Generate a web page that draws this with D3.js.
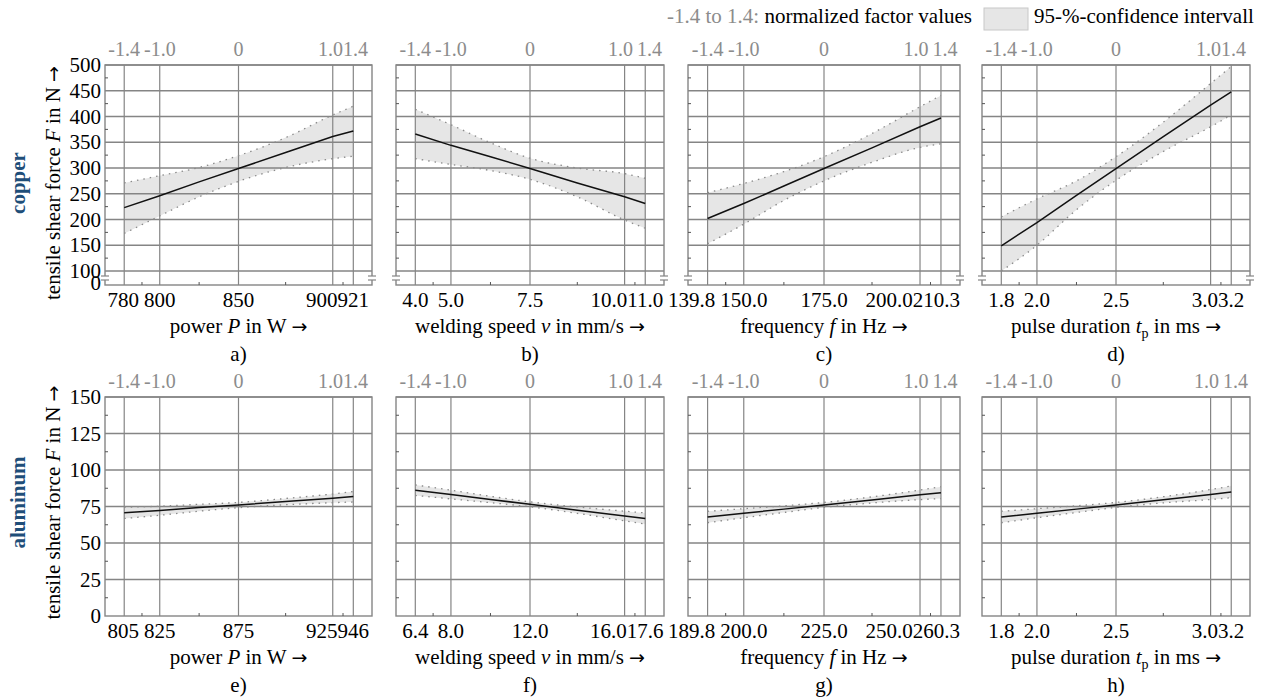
<!DOCTYPE html>
<html><head><meta charset="utf-8">
<script src="https://cdn.jsdelivr.net/npm/d3@7"></script>
<style>
html,body{margin:0;padding:0;background:#fff;}
svg, svg text{font-family:"Liberation Serif","DejaVu Serif","Times New Roman",serif;}
</style></head>
<body><svg id="chart" width="1261" height="699" font-family="Liberation Serif, DejaVu Serif, serif"></svg>
<script>
// ---------------- data ----------------
const normFactors = [-1.4, -1.0, -0.5, 0, 0.5, 1.0, 1.4];
const topTickValues = [-1.4, -1.0, 0, 1.0, 1.4];
const topTickLabels = ["-1.4", "-1.0", "0", "1.0", "1.4"];

const materials = ["copper", "aluminum"];
const panelLetters = [["a)", "b)", "c)", "d)"], ["e)", "f)", "g)", "h)"]];

const copperTicks = [
  ["780", "800", "850", "900", "921"],
  ["4.0", "5.0", "7.5", "10.0", "11.0"],
  ["139.8", "150.0", "175.0", "200.0", "210.3"],
  ["1.8", "2.0", "2.5", "3.0", "3.2"]
];
const aluminumTicks = [
  ["805", "825", "875", "925", "946"],
  ["6.4", "8.0", "12.0", "16.0", "17.6"],
  ["189.8", "200.0", "225.0", "250.0", "260.3"],
  ["1.8", "2.0", "2.5", "3.0", "3.2"]
];

// copper: fit / upper / lower at normFactors
const cuPowerFit   = [223, 246, 273, 299, 330, 361, 372];
const cuPowerUpper = [271, 285, 301, 324, 359, 403, 420];
const cuPowerLower = [173, 207, 244, 274, 301, 318, 323];
const cuSpeedFit   = [366, 344, 322, 299, 271, 244, 231];
const cuSpeedUpper = [414, 384, 349, 319, 300, 289, 280];
const cuSpeedLower = [318, 307, 295, 278, 244, 199, 183];
const cuFreqFit    = [202, 231, 265, 299, 339, 380, 397];
const cuFreqUpper  = [252, 270, 293, 322, 367, 419, 441];
const cuFreqLower  = [153, 191, 237, 275, 311, 340, 347];
const cuPulseFit   = [149, 194, 247, 299, 361, 422, 448];
const cuPulseUpper = [205, 240, 275, 322, 389, 464, 497];
const cuPulseLower = [100, 150, 219, 276, 332, 380, 403];

// aluminum
const alPowerFit   = [70.8, 72.3, 74.3, 76.1, 78.4, 80.7, 81.8];
const alPowerUpper = [74.5, 75.2, 76.5, 77.8, 80.5, 83.6, 85.3];
const alPowerLower = [66.8, 69.0, 71.8, 74.2, 76.2, 77.6, 78.1];
const alSpeedFit   = [86.2, 83.2, 79.8, 76.5, 72.5, 68.5, 66.8];
const alSpeedUpper = [89.8, 86.2, 82.0, 78.2, 74.7, 71.8, 70.6];
const alSpeedLower = [82.6, 80.2, 77.6, 74.8, 70.3, 65.2, 63.0];
const alFreqFit    = [67.8, 70.4, 73.2, 76.1, 79.5, 83.0, 84.5];
const alFreqUpper  = [71.7, 73.5, 75.5, 77.8, 81.6, 86.3, 88.6];
const alFreqLower  = [63.9, 67.3, 70.9, 74.4, 77.4, 79.7, 80.4];
const alPulseFit   = [67.8, 70.4, 73.2, 76.1, 79.6, 83.2, 85.0];
const alPulseUpper = [71.7, 73.5, 75.5, 77.8, 81.7, 86.6, 89.0];
const alPulseLower = [63.9, 67.3, 70.9, 74.4, 77.5, 79.8, 81.0];

const copperYTicks = [0, 100, 150, 200, 250, 300, 350, 400, 450, 500];
const aluminumYTicks = [0, 25, 50, 75, 100, 125, 150];

// ---------------- layout ----------------
const FONT = "Liberation Serif, DejaVu Serif, serif";
const ARROWFONT = "DejaVu Sans, sans-serif";
const svg = d3.select("#chart");
const panelLeft = [105, 396, 688, 982];
const panelRight = [372, 664, 960, 1250];
const rowTop = [65, 397];
const rowBottom = [285, 616];
const xFrac = [0.072, 0.205, 0.5, 0.853, 0.93];
const gridColor = "#858585";

const copperData = [
  [cuPowerFit, cuPowerUpper, cuPowerLower],
  [cuSpeedFit, cuSpeedUpper, cuSpeedLower],
  [cuFreqFit, cuFreqUpper, cuFreqLower],
  [cuPulseFit, cuPulseUpper, cuPulseLower]
];
const aluminumData = [
  [alPowerFit, alPowerUpper, alPowerLower],
  [alSpeedFit, alSpeedUpper, alSpeedLower],
  [alFreqFit, alFreqUpper, alFreqLower],
  [alPulseFit, alPulseUpper, alPulseLower]
];

function arrow(t) {
  t.append("tspan").attr("font-family", ARROWFONT).attr("font-size", 19).text("\u2192");
}

function axisTitle(g, i, x, y) {
  const t = g.append("text").attr("x", x).attr("y", y).attr("text-anchor", "middle")
    .attr("font-family", FONT).attr("font-size", 21).attr("fill", "#000");
  if (i === 0) {
    t.append("tspan").text("power ");
    t.append("tspan").attr("font-style", "italic").text("P");
    t.append("tspan").text(" in W ");
  } else if (i === 1) {
    t.append("tspan").text("welding speed ");
    t.append("tspan").attr("font-style", "italic").text("v");
    t.append("tspan").text(" in mm/s ");
  } else if (i === 2) {
    t.append("tspan").text("frequency ");
    t.append("tspan").attr("font-style", "italic").text("f");
    t.append("tspan").text("  in Hz ");
  } else {
    t.append("tspan").text("pulse duration ");
    t.append("tspan").attr("font-style", "italic").text("t");
    t.append("tspan").attr("font-size", 14).attr("dy", 5).text("p");
    t.append("tspan").attr("dy", -5).text(" in ms ");
  }
  arrow(t);
}

// push overlapping labels apart (optionally keeping the last one inside the frame)
function declutter(sel, L, R, clamp, gapFirst, gapRest) {
  const nodes = sel.nodes();
  const c = nodes.map(n => +n.getAttribute("x"));
  const w = nodes.map(n => n.getComputedTextLength());
  const n = nodes.length;
  if (clamp) {
    if (c[n - 1] + w[n - 1] / 2 > R) c[n - 1] = R - w[n - 1] / 2;
    for (let k = n - 2; k >= 0; k--) {
      const gap = k === 0 ? gapFirst : gapRest;
      const ov = (c[k] + w[k] / 2) - (c[k + 1] - w[k + 1] / 2) + gap;
      if (ov > 0) c[k] -= ov;
    }
  } else {
    for (let k = n - 2; k >= 0; k--) {
      const gap = k === 0 ? gapFirst : gapRest;
      const ov = (c[k] + w[k] / 2) - (c[k + 1] - w[k + 1] / 2) + gap;
      if (ov > 0) { c[k] -= ov / 2; c[k + 1] += ov / 2; }
    }
  }
  nodes.forEach((nd, k) => nd.setAttribute("x", c[k]));
}

for (let r = 0; r < 2; r++) {
  const top = rowTop[r], bottom = rowBottom[r];
  const y = r === 0
    ? d3.scaleLinear().domain([0, 100, 500]).range([bottom, bottom - 14, top])
    : d3.scaleLinear().domain([0, 150]).range([bottom, top]);
  const yTicks = r === 0 ? copperYTicks : aluminumYTicks;
  const ticksX = r === 0 ? copperTicks : aluminumTicks;
  const rowData = r === 0 ? copperData : aluminumData;
  const minorY = [];
  for (let k = 0; k < yTicks.length - 1; k++) {
    if (r === 0 && k === 0) continue;
    minorY.push((yTicks[k] + yTicks[k + 1]) / 2);
  }

  for (let i = 0; i < 4; i++) {
    const L = panelLeft[i], R = panelRight[i], W = R - L;
    const x = d3.scaleLinear().domain(topTickValues).range(xFrac.map(f => L + f * W));
    const g = svg.append("g").attr("font-family", FONT);
    const [fit, up, lo] = rowData[i];
    const pts = normFactors.map((n, k) => ({ n, fit: fit[k], up: up[k], lo: lo[k] }));

    // CI band
    g.append("path").datum(pts)
      .attr("d", d3.area().x(d => x(d.n)).y0(d => y(d.lo)).y1(d => y(d.up)).curve(d3.curveMonotoneX))
      .attr("fill", "#e6e6e6");

    // horizontal grid
    g.selectAll(".hg").data(yTicks.filter(v => v > 0))
      .enter().append("line")
      .attr("x1", L).attr("x2", R).attr("y1", d => y(d)).attr("y2", d => y(d))
      .attr("stroke", gridColor).attr("stroke-width", 1.4);
    // vertical grid
    g.selectAll(".vg").data(topTickValues).enter().append("line")
      .attr("x1", d => x(d)).attr("x2", d => x(d)).attr("y1", top).attr("y2", bottom)
      .attr("stroke", gridColor).attr("stroke-width", 1.2);
    // frame
    g.append("rect").attr("x", L).attr("y", top).attr("width", W).attr("height", bottom - top)
      .attr("fill", "none").attr("stroke", gridColor).attr("stroke-width", 1.4);
    // minor y ticks
    g.selectAll(".my").data(minorY).enter().append("line")
      .attr("x1", L).attr("x2", L + 3).attr("y1", d => y(d)).attr("y2", d => y(d))
      .attr("stroke", "#555").attr("stroke-width", 1);
    // minor x ticks
    g.selectAll(".mx").data([-1.2, -0.5, 0.5, 1.2]).enter().append("line")
      .attr("x1", d => x(d)).attr("x2", d => x(d)).attr("y1", bottom).attr("y2", bottom - 3)
      .attr("stroke", "#555").attr("stroke-width", 1);

    // axis break (copper only)
    if (r === 0) {
      const yb = (y(0) + y(100)) / 2;
      [L, R].forEach(xe => {
        g.append("rect").attr("x", xe - 2).attr("y", yb - 2).attr("width", 4).attr("height", 4).attr("fill", "#fff");
        [yb - 2, yb + 2].forEach(yy => g.append("line")
          .attr("x1", xe - 4).attr("x2", xe + 4).attr("y1", yy).attr("y2", yy)
          .attr("stroke", gridColor).attr("stroke-width", 1.2));
      });
    }

    // CI boundaries
    ["up", "lo"].forEach(key => {
      g.append("path").datum(pts)
        .attr("d", d3.line().x(d => x(d.n)).y(d => y(d[key])).curve(d3.curveMonotoneX))
        .attr("fill", "none").attr("stroke", "#8a8a8a").attr("stroke-width", 1.3)
        .attr("stroke-dasharray", "1.5,5");
    });
    // fit line
    g.append("path").datum(pts)
      .attr("d", d3.line().x(d => x(d.n)).y(d => y(d.fit)))
      .attr("fill", "none").attr("stroke", "#111").attr("stroke-width", 1.5);

    // top normalized labels
    const tl = g.selectAll(".tl").data(topTickValues).enter().append("text")
      .attr("x", d => x(d)).attr("y", top - 9).attr("text-anchor", "middle")
      .attr("font-size", 20).attr("fill", "#8c8c8c")
      .text((d, k) => topTickLabels[k]);
    declutter(tl, L, R, false, 4, (i === 0 && r === 0) || (i === 3 && r === 0) || (i === 0 && r === 1) ? 0 : 4);
    // bottom tick labels
    const bl = g.selectAll(".bl").data(topTickValues).enter().append("text")
      .attr("x", d => x(d)).attr("y", bottom + 22).attr("text-anchor", "middle")
      .attr("font-size", 21).attr("fill", "#000")
      .text((d, k) => ticksX[i][k]);
    declutter(bl, L, R, true, 5, 0);

    axisTitle(g, i, (L + R) / 2, bottom + 48);
    g.append("text").attr("x", (L + R) / 2).attr("y", bottom + 76).attr("text-anchor", "middle")
      .attr("font-size", 21).text(panelLetters[r][i]);

    // y axis labels (first column)
    if (i === 0) {
      g.selectAll(".yl").data(yTicks).enter().append("text")
        .attr("x", L - 4).attr("y", d => y(d) + (r === 0 && d === 0 ? 5 : 7))
        .attr("text-anchor", "end").attr("font-size", 21).text(d => d);
      const cy = (top + bottom) / 2 + (r === 0 ? 8 : -4);
      const yt = g.append("text").attr("transform", `translate(60,${cy}) rotate(-90)`)
        .attr("text-anchor", "middle").attr("font-size", 21);
      yt.append("tspan").text("tensile shear force ");
      yt.append("tspan").attr("font-style", "italic").text("F");
      yt.append("tspan").text(" in N ");
      arrow(yt);
      g.append("text").attr("transform", `translate(25,${cy}) rotate(-90)`)
        .attr("text-anchor", "middle").attr("font-size", 21).attr("font-weight", "bold")
        .attr("fill", "#1f4e79").text(materials[r]);
    }
  }
}

// legend
const leg = svg.append("g").attr("font-family", FONT);
const lt = leg.append("text").attr("x", 972).attr("y", 23).attr("text-anchor", "end").attr("font-size", 21);
lt.append("tspan").attr("fill", "#8c8c8c").text("-1.4 to 1.4:");
lt.append("tspan").attr("fill", "#000").text(" normalized factor values");
leg.append("rect").attr("x", 984).attr("y", 8).attr("width", 44).attr("height", 22)
  .attr("fill", "#e6e6e6").attr("stroke", "#c8c8c8").attr("stroke-width", 1);
leg.append("text").attr("x", 1034).attr("y", 23).attr("font-size", 21).text("95-%-confidence intervall");
</script></body></html>
